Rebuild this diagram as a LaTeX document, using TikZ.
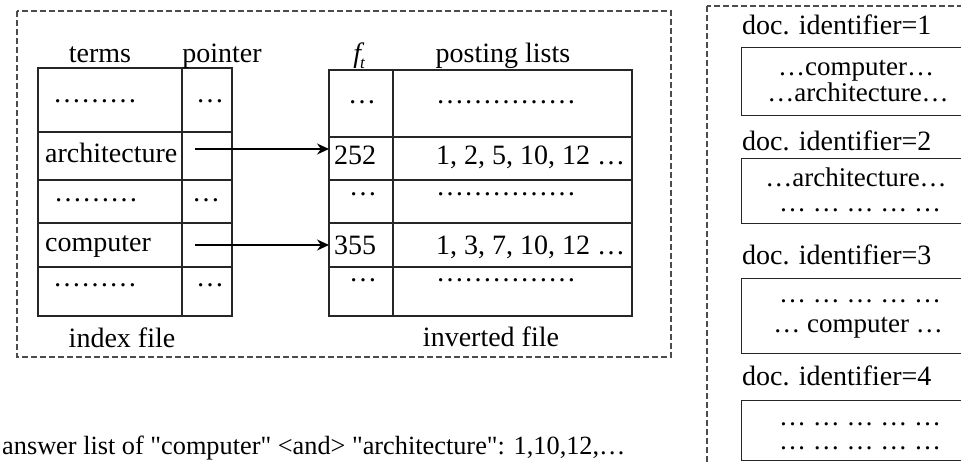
\documentclass[tikz,border=0pt]{standalone}
\usepackage{fontspec}
\setmainfont{Liberation Serif}[Ligatures=TeXOff]
\usetikzlibrary{arrows.meta}
\begin{document}
\begin{tikzpicture}[x=1pt,y=-1pt,
  txt/.style={inner sep=0pt,anchor=base,font=\fontsize{28}{32}\selectfont},
  txtl/.style={inner sep=0pt,anchor=base west,font=\fontsize{28}{32}\selectfont},
  btxt/.style={inner sep=0pt,anchor=base,font=\fontsize{27}{30}\selectfont},
  gridline/.style={line width=1.3pt,draw=black!85},
  frame/.style={line width=1.3pt,draw=black!70,dash pattern=on 6pt off 3pt},
  docbox/.style={draw=black!85,line width=1.3pt,inner sep=0pt,anchor=north west,minimum width=240pt},
  ptr/.style={line width=1.2pt,-{Stealth[length=12pt,width=11pt]}}]
\useasboundingbox (0,0) rectangle (961,462);
\clip (0,0) rectangle (961,462);

% frames
\draw[frame] (17,11) rectangle (671,357);
\draw[frame] (707,6) rectangle (990,490);

% index table
\draw[gridline] (38,68) rectangle (232,316);
\draw[gridline] (182,68) -- (182,316);
\foreach \yy in {132,180,223,267} \draw[gridline] (38,\yy) -- (232,\yy);

% inverted table
\draw[gridline] (329,70) rectangle (632,316);
\draw[gridline] (393,70) -- (393,316);
\foreach \yy in {137,180,223,267} \draw[gridline] (329,\yy) -- (632,\yy);

% headers
\node[txt] (hterms) at (100,63) {terms};
\node[txt] (hptr) at (222,63) {pointer};
\node[txt] (hft) at (359,63) {\itshape f\kern-1pt\raisebox{-0.2em}{\fontsize{17}{17}\selectfont t}};
\node[txt] (hpost) at (503,63) {posting lists};

% index cells
\node[txt] (i1) at (95,103) {………};
\node[txt] (p1) at (210,103) {…};
\node[txtl] (arch) at (45,163) {architecture};
\node[txt] (i3) at (96,202) {………};
\node[txt] (p3) at (206,202) {…};
\node[txtl] (comp) at (45,252) {computer};
\node[txt] (i5) at (95,287) {………};
\node[txt] (p5) at (210,287) {…};

% inverted cells
\node[txt] (f1) at (362,104) {…};
\node[txt] (l1) at (506,104) {……………};
\node[txtl] (f2) at (334,165) {252};
\node[txtl] (l2) at (436,165) {1, 2, 5, 10, 12 …};
\node[txt] (f3) at (363,196) {…};
\node[txt] (l3) at (506,196) {……………};
\node[txtl] (f4) at (334,255) {355};
\node[txtl] (l4) at (436,255) {1, 3, 7, 10, 12 …};
\node[txt] (f5) at (363,282) {…};
\node[txt] (l5) at (506,282) {……………};

% captions
\node[txt] (cidx) at (122,347) {index file};
\node[txt] (cinv) at (491,346) {inverted file};

% pointers
\coordinate (pa) at (195,149);
\coordinate (pb) at (195,245);
\coordinate (ta) at (329,149);
\coordinate (tb) at (329,245);
\draw[ptr] (pa) -- (ta);
\draw[ptr] (pb) -- (tb);

% documents
\node[txtl] (h1) at (742,35) {doc. identifier=1};
\node[docbox,minimum height=68pt] (d1) at (741,47) {};
\node[btxt] (d1a) at (856,76) {…computer…};
\node[btxt] (d1b) at (858,102) {…architecture…};

\node[txtl] (h2) at (742,151) {doc. identifier=2};
\node[docbox,minimum height=65pt] (d2) at (741,158) {};
\node[btxt] (d2a) at (856,187) {…architecture…};
\node[btxt] (d2b) at (860,212) {… … … … …};

\node[txtl] (h3) at (742,265) {doc. identifier=3};
\node[docbox,minimum height=75pt] (d3) at (741,278) {};
\node[btxt] (d3a) at (860,303) {… … … … …};
\node[btxt] (d3b) at (858,332) {… computer …};

\node[txtl] (h4) at (742,385) {doc. identifier=4};
\node[docbox,minimum height=60pt] (d4) at (741,400) {};
\node[btxt] (d4a) at (860,425) {… … … … …};
\node[btxt] (d4b) at (860,449) {… … … … …};

% answer
\node[inner sep=0pt,anchor=base west,font=\fontsize{26.3}{30}\selectfont] (ans) at (2,454) {answer list of "computer" <and> "architecture": 1,10,12,…};
\end{tikzpicture}
\end{document}
